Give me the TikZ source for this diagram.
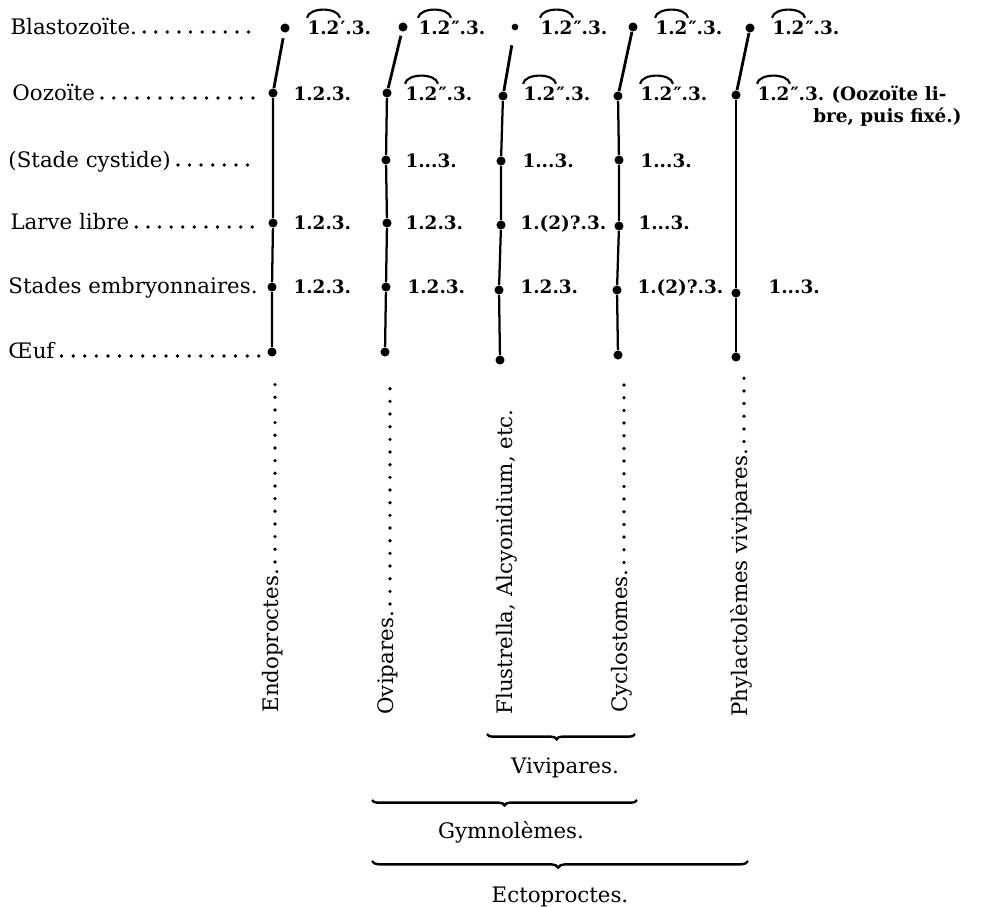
\documentclass[tikz,border=0pt]{standalone}
\usepackage{fontspec}
\setmainfont{DejaVu Serif}
\usetikzlibrary{decorations.pathreplacing}

\tikzset{every picture/.style={line width=0.75pt}}
\tikzset{
	stage/.style={circle, fill, inner sep=0, minimum size=6.8pt},
	stem/.style={line width=1.7pt},
	bud/.style={line width=2.1pt},
	leader/.style={line width=2.8pt, line cap=round, dash pattern=on 0pt off 8.7pt},
	tallleader/.style={leader, dash pattern=on 0pt off 9.5pt},
	rowlabel/.style={anchor=base west, inner sep=0, font=\fontsize{16}{19}\selectfont},
	grouplabel/.style={anchor=base west, inner sep=0, rotate=90, font=\fontsize{16}{19}\selectfont},
	formula/.style={anchor=base west, inner sep=0, font=\bfseries\fontsize{13.8}{17}\selectfont},
	hood/.style={line width=1.6pt},
	bracket/.style 2 args={decorate, decoration={brace, mirror, amplitude=#1, aspect=#2}, line width=1.8pt}}

% formula with an arc over 1.2
\newcommand{\arcform}[3]{%
	\node[formula, inner ysep=1.5pt] (#1) at (#2) {1.2};
	\node[formula] (#1t) at (#1.base east) {#3};
	\draw[hood] (#1.north west) .. controls +(2,-11) and +(-2,-11) .. (#1.north east);}

\begin{document}
\begin{tikzpicture}[x=0.75pt,y=0.75pt,yscale=-1,xscale=1]
	\useasboundingbox (0,0) rectangle (983,907);

	%Text Node: stages
	\node[rowlabel] (lbB) at (10,34) {Blastozoïte.};
	\node[rowlabel] (lbO) at (12,100) {Oozoïte};
	\node[rowlabel] (lbC) at (8,167) {(Stade cystide)};
	\node[rowlabel] (lbL) at (10,229) {Larve libre};
	\node[rowlabel] (lbS) at (8,293) {Stades embryonnaires.};
	\node[rowlabel] (lbE) at (8,358) {Œuf};
	\coordinate (eB) at (258,32);
	\coordinate (eO) at (264,98);
	\coordinate (eC) at (258,165);
	\coordinate (eL) at (260,227);
	\coordinate (eE) at (262,356);
	\foreach \r in {B,O,C,L,E}
		\draw[leader, shorten <=5pt] (lb\r.east |- e\r) -- (e\r);

	%Shape: Circle
	\node[stage] (b1) at (285,28) {};
	\node[stage] (o1) at (273,93) {};
	\node[stage] (l1) at (273,223) {};
	\node[stage] (s1) at (272,287) {};
	\node[stage] (e1) at (272,352) {};
	\node[stage] (b2) at (403,27) {};
	\node[stage] (o2) at (387,93) {};
	\node[stage] (c2) at (386,160) {};
	\node[stage] (l2) at (387,223) {};
	\node[stage] (s2) at (386,287) {};
	\node[stage] (e2) at (385,352) {};
	\node[stage, minimum size=5pt] (b3) at (515,27) {};
	\node[stage] (o3) at (503,96) {};
	\node[stage] (c3) at (501,161) {};
	\node[stage] (l3) at (501,225) {};
	\node[stage] (s3) at (499,290) {};
	\node[stage] (e3) at (500,360) {};
	\node[stage] (b4) at (633,27) {};
	\node[stage] (o4) at (618,96) {};
	\node[stage] (c4) at (619,160) {};
	\node[stage] (l4) at (619,226) {};
	\node[stage] (s4) at (617,290) {};
	\node[stage] (e4) at (618,355) {};
	\node[stage] (b5) at (750,28) {};
	\node[stage] (o5) at (736,95) {};
	\node[stage] (s5) at (736,293) {};
	\node[stage] (e5) at (736,357) {};

	%Straight Lines
	\draw[stem] (o1) -- (l1) -- (s1) -- (e1);
	\draw[stem] (o2) -- (c2) -- (l2) -- (s2) -- (e2);
	\draw[stem] (o3) -- (c3) -- (l3) -- (s3) -- (e3);
	\draw[stem] (o4) -- (c4) -- (l4) -- (s4) -- (e4);
	\draw[stem] (o5) -- (s5) -- (e5);
	\draw[bud, shorten >=4pt] (o1) -- (b1);
	\draw[bud, shorten >=3pt] (o2) -- (b2);
	\draw[bud, shorten >=11pt] (o3) -- (b3);
	\draw[bud] (o4) -- (b4);
	\draw[bud] (o5) -- (b5);

	%Text Node: formulas
	\arcform{fb1}{307,34}{′.3.}
	\arcform{fb2}{418,34}{″.3.}
	\arcform{fb3}{540,34}{″.3.}
	\arcform{fb4}{655,34}{″.3.}
	\arcform{fb5}{772,34}{″.3.}
	\node[formula] (fo1) at (293,100) {1.2.3.};
	\arcform{fo2}{405,100}{″.3.}
	\arcform{fo3}{523,100}{″.3.}
	\arcform{fo4}{640,100}{″.3.}
	\arcform{fo5}{757,100}{″.3.}
	\node[formula] (note1) at (831,100) {(Oozoïte li-};
	\node[formula, anchor=base east] (note2) at (962,122) {bre, puis fixé.)};
	\node[formula] (fc2) at (405,167) {1...3.};
	\node[formula] (fc3) at (522,167) {1...3.};
	\node[formula] (fc4) at (640,167) {1...3.};
	\node[formula] (fl1) at (293,229) {1.2.3.};
	\node[formula] (fl2) at (405,229) {1.2.3.};
	\node[formula] (fl3) at (520,229) {1.(2)?.3.};
	\node[formula] (fl4) at (638,229) {1...3.};
	\node[formula] (fs1) at (293,293) {1.2.3.};
	\node[formula] (fs2) at (407,293) {1.2.3.};
	\node[formula] (fs3) at (520,293) {1.2.3.};
	\node[formula] (fs4) at (637,293) {1.(2)?.3.};
	\node[formula] (fs5) at (768,293) {1...3.};

	%Text Node: groups
	\node[grouplabel] (gEndo) at (278,713) {Endoproctes.};
	\node[grouplabel] (gOvi) at (393,715) {Ovipares.};
	\node[grouplabel] (gFlus) at (512,715) {Flustrella, Alcyonidium, etc.};
	\node[grouplabel] (gCyclo) at (627,713) {Cyclostomes.};
	\node[grouplabel] (gPhyl) at (747,717) {Phylactolèmes vivipares.};
	\coordinate (tEndo) at (275,378);
	\coordinate (tOvi) at (390,378);
	\coordinate (tCyclo) at (624,378);
	\coordinate (tPhyl) at (744,378);
	\foreach \g in {Endo,Ovi,Cyclo,Phyl}
		\draw[tallleader, shorten <=5pt] (t\g |- g\g.east) -- (t\g);

	%Braces
	\coordinate (vivA) at (487,734);
	\coordinate (vivB) at (635,734);
	\coordinate (gymA) at (372,800);
	\coordinate (gymB) at (637,800);
	\coordinate (ectA) at (372,861);
	\coordinate (ectB) at (748,861);
	\draw[bracket={4pt}{0.47}] (vivA) -- (vivB);
	\draw[bracket={4pt}{0.5}] (gymA) -- (gymB);
	\draw[bracket={5pt}{0.495}] (ectA) -- (ectB);
	\node[rowlabel, anchor=base] (viv) at (565,773) {Vivipares.};
	\node[rowlabel, anchor=base] (gym) at (511,838) {Gymnolèmes.};
	\node[rowlabel, anchor=base] (ect) at (560,902) {Ectoproctes.};

\end{tikzpicture}
\end{document}
